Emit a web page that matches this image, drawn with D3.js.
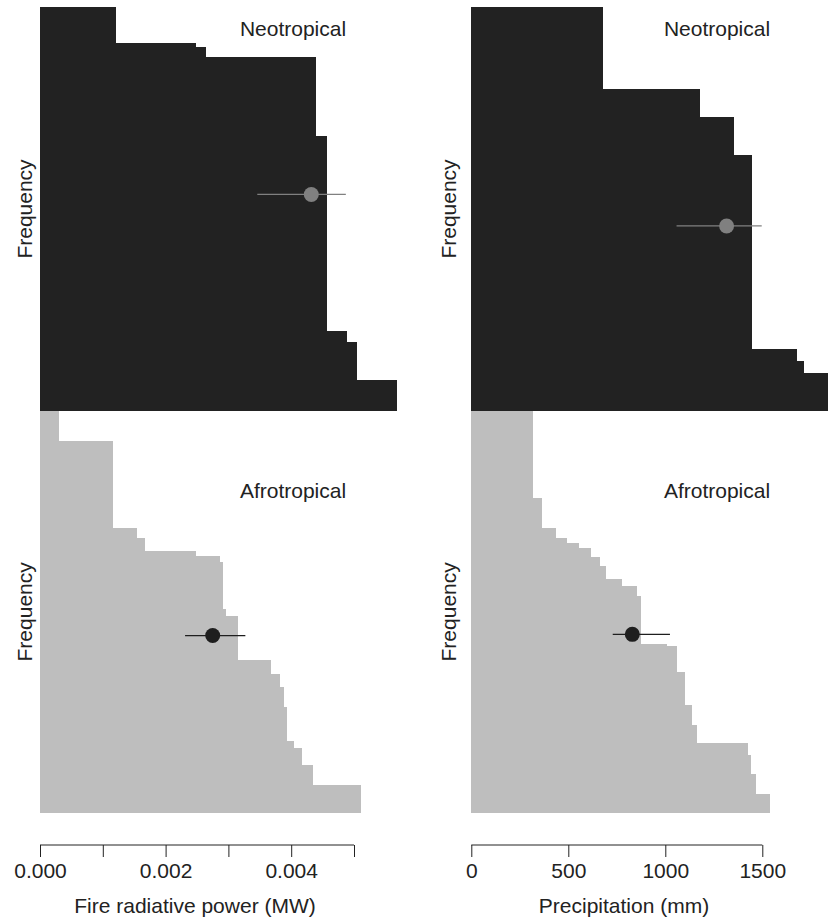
<!DOCTYPE html>
<html>
<head>
<meta charset="utf-8">
<script src="https://cdn.jsdelivr.net/npm/d3@7"></script>
<style>
  body { margin: 0; background: #fff; }
  svg { display: block; font-family: "Liberation Sans", Arial, sans-serif; }
  .lab { font-size: 21px; fill: #222; }
</style>
</head>
<body>
<div id="chart"></div>
<script>
// sorted values (one step per group) and the share of records (%) in each step
const frpNeoValues  = [0.00121, 0.00248, 0.00264, 0.00439, 0.00457, 0.00489, 0.00504, 0.00568];
const frpNeoFreq    = [9.0, 0.8, 2.6, 19.5, 48.2, 2.8, 9.4, 7.7];
const frpAfroValues = [0.000307, 0.001167, 0.00154, 0.001672, 0.002479, 0.002866, 0.002909, 0.002962,
                       0.003158, 0.003674, 0.003822, 0.003885, 0.003928, 0.004045, 0.004167, 0.004352, 0.005111];
const frpAfroFreq   = [7.5, 21.7, 2.5, 3.1, 1.2, 1.5, 11.8, 1.7, 11.1, 3.3, 3.3, 5.0, 8.4, 1.8, 4.2, 5.1, 6.8];

const precNeoValues  = [680, 1179, 1356, 1449, 1680, 1716, 1850];
const precNeoFreq    = [20.2, 7.1, 9.4, 48.0, 3.0, 2.8, 9.5];
const precAfroValues = [316, 363, 437, 492, 557, 615, 663, 694, 775, 853, 873, 1007, 1059, 1102, 1136,
                        1165, 1425, 1440, 1468, 1540];
const precAfroFreq   = [21.7, 7.5, 2.5, 1.2, 1.2, 2.2, 2.2, 3.3, 1.8, 2.5, 11.8, 0.5, 6.5, 8.4, 4.8,
                        4.5, 3.0, 4.8, 5.0, 4.6];

// mean with interval: [fire radiative power, precipitation]
const neoMean  = [0.00432, 1316];
const neoLow   = [0.00346, 1058];
const neoHigh  = [0.00487, 1497];
const neoPos   = [46.4, 54.2];   // frequency position (% from top of panel)
const afroMean = [0.00275, 830];
const afroLow  = [0.00231, 729];
const afroHigh = [0.00327, 1024];
const afroPos  = [55.9, 55.6];

const frpTicks  = [0, 0.001, 0.002, 0.003, 0.004, 0.005];
const frpLabels = ['0.000', '', '0.002', '', '0.004', ''];
const precTicks = [0, 500, 1000, 1500];

const width = 828, height = 918;
const topY = 7, midY = 411, botY = 812.7, axisY = 845;

const svg = d3.select('#chart').append('svg')
  .attr('width', width)
  .attr('height', height);

const xFrp = d3.scaleLinear().domain([0, 0.005]).range([40, 354]);
const xPrec = d3.scaleLinear().domain([0, 1500]).range([471.3, 762.3]);

const yTop = d3.scaleLinear().domain([0, 100]).range([topY, midY]);
const yBot = d3.scaleLinear().domain([0, 100]).range([midY, botY]);

const columns = [
  { x: xFrp, col: 0, neo: [frpNeoValues, frpNeoFreq], afro: [frpAfroValues, frpAfroFreq],
    title: 'Fire radiative power (MW)', titleX: 195, freqX: 25, labelX: 293 },
  { x: xPrec, col: 1, neo: [precNeoValues, precNeoFreq], afro: [precAfroValues, precAfroFreq],
    title: 'Precipitation (mm)', titleX: 624, freqX: 449, labelX: 717 }
];

function steps(values, freq) {
  let cum = 0;
  return values.map((v, i) => {
    const d = { v: v, y0: cum, y1: cum + freq[i] };
    cum += freq[i];
    return d;
  });
}

function drawPanel(g, x, y, rows, fill) {
  const total = d3.sum(rows[1]);
  y = y.copy().domain([0, total]);
  g.append('g')
    .selectAll('rect')
    .data(steps(rows[0], rows[1]))
    .join('rect')
    .attr('x', x(0))
    .attr('y', d => y(d.y0))
    .attr('width', d => x(d.v) - x(0))
    .attr('height', d => y(d.y1) - y(d.y0))
    .attr('fill', fill)
    .attr('shape-rendering', 'crispEdges');
}

function drawMean(g, x, y, mean, lo, hi, pos, color) {
  const cy = y(pos);
  g.append('line')
    .attr('x1', x(lo)).attr('x2', x(hi))
    .attr('y1', cy).attr('y2', cy)
    .attr('stroke', color)
    .attr('stroke-width', 1.2);
  g.append('circle')
    .attr('cx', x(mean)).attr('cy', cy)
    .attr('r', 7.5)
    .attr('fill', color);
}

columns.forEach(c => {
  const g = svg.append('g');

  drawPanel(g, c.x, yTop, c.neo, '#222222');
  drawPanel(g, c.x, yBot, c.afro, '#bebebe');

  drawMean(g, c.x, yTop, neoMean[c.col], neoLow[c.col], neoHigh[c.col], neoPos[c.col], '#808080');
  drawMean(g, c.x, yBot, afroMean[c.col], afroLow[c.col], afroHigh[c.col], afroPos[c.col], '#1e1e1e');

  // region labels
  g.append('text').attr('class', 'lab')
    .attr('x', c.labelX).attr('y', 36)
    .attr('text-anchor', 'middle')
    .text('Neotropical');
  g.append('text').attr('class', 'lab')
    .attr('x', c.labelX).attr('y', 498)
    .attr('text-anchor', 'middle')
    .text('Afrotropical');

  // Frequency labels
  [(topY + midY) / 2, (midY + botY) / 2].forEach(cy => {
    g.append('text').attr('class', 'lab')
      .attr('transform', `translate(${c.freqX + 7},${cy}) rotate(-90)`)
      .attr('text-anchor', 'middle')
      .text('Frequency');
  });

  // x axis
  const axis = d3.axisBottom(c.x)
    .tickSize(12)
    .tickPadding(6);
  if (c.col === 0) {
    axis.tickValues(frpTicks).tickFormat((d, i) => frpLabels[i]);
  } else {
    axis.tickValues(precTicks).tickFormat(d3.format('d'));
  }
  const axG = g.append('g')
    .attr('transform', `translate(0,${axisY})`)
    .call(axis);
  axG.select('.domain')
    .attr('d', `M${c.x.range()[0]},0H${c.x.range()[1]}`)
    .attr('stroke', '#222');
  axG.selectAll('.tick line').attr('stroke', '#222');
  axG.selectAll('.tick text')
    .attr('font-size', 21)
    .attr('font-family', '"Liberation Sans", Arial, sans-serif')
    .attr('fill', '#222');

  g.append('text').attr('class', 'lab')
    .attr('x', c.titleX).attr('y', 913)
    .attr('text-anchor', 'middle')
    .text(c.title);
});
</script>
</body>
</html>
